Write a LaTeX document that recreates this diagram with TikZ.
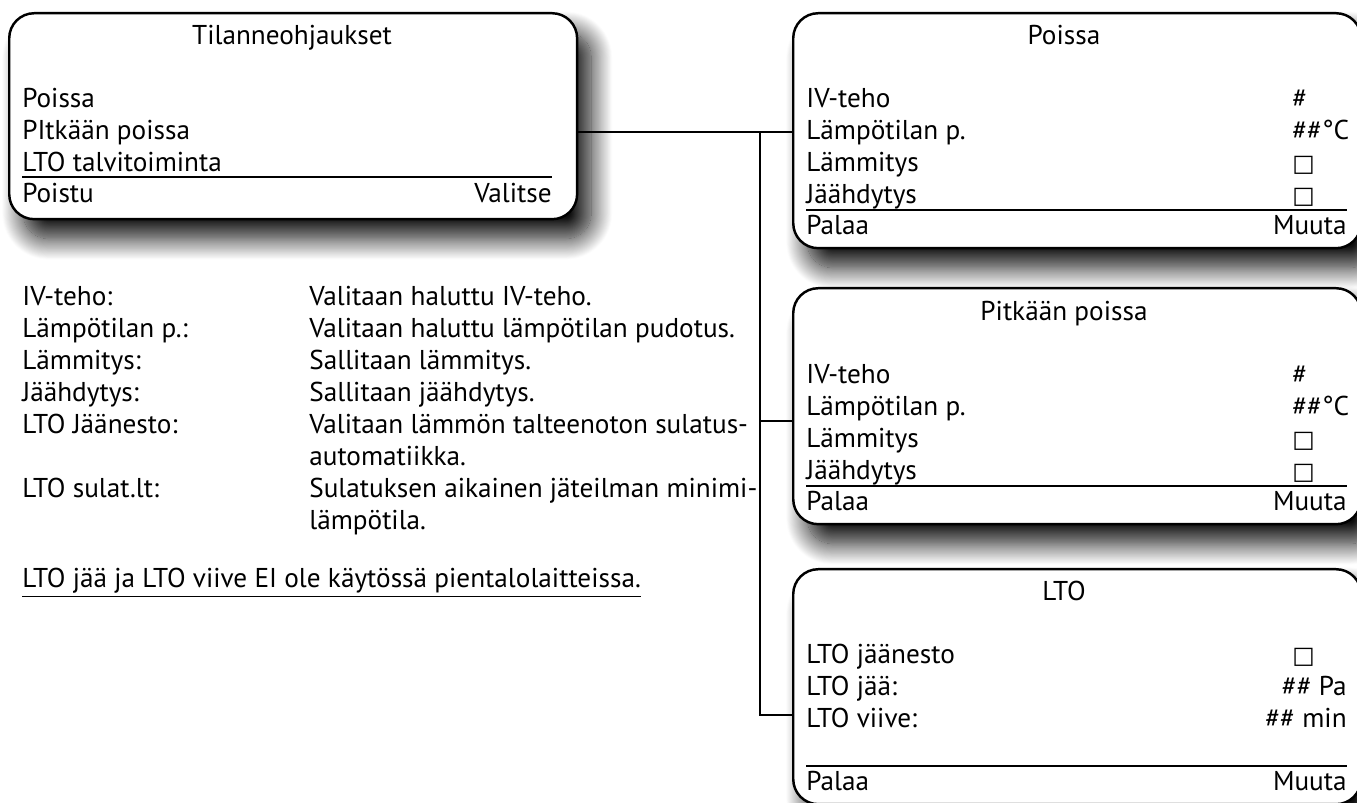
\documentclass[tikz,border=0pt]{standalone}
\usepackage{fontspec}
\setmainfont{PT Sans}
\newfontfamily\boxfont{DejaVu Sans}
\usetikzlibrary{shadows.blur,positioning}
\tikzset{
  panel/.style={
    shape = rectangle,
    draw,
    line width = 1.4pt,
    rounded corners = 0.5cm,
    fill = white,
    minimum width = 11.36cm,
    anchor = north west,
    inner sep = 0pt,
    blur shadow = {shadow xshift=8pt, shadow yshift=-11pt,
      shadow blur radius=12pt, shadow blur steps=24, shadow opacity=95}
  },
  row/.style={
    anchor = base west,
    inner sep = 0pt,
    font = \fontsize{15.5}{18}\selectfont
  },
  rowr/.style={
    row,
    anchor = base east
  },
  title/.style={
    row,
    anchor = base
  },
  sep/.style={
    line width = 0.8pt
  },
  wire/.style={
    line width = 1.3pt
  },
}
\newcommand{\chk}{{\boxfont\fontsize{13.5}{16}\selectfont\char"25A1}}
\begin{document}
\begin{tikzpicture}[x=0.02cm,y=-0.02cm]
  \node[panel, minimum height=4.12cm] (menu) at (8,12) {};
  \node[title] (menu-t) at (292,45) {Tilanneohjaukset};
  \foreach \txt [count=\i] in {Poissa, PItkään poissa, LTO talvitoiminta}
    \node[row] (menu-\i) at (22,76+32*\i) {\txt};
  \draw[sep] (22,177) -- (552,177);
  \node[row] (menu-back) at (22,203) {Poistu};
  \node[rowr] (menu-ok) at (552,203) {Valitse};

  \node[panel, minimum height=4.7cm] (poissa) at (792,12) {};
  \node[panel, minimum height=4.72cm] (pitkaan) at (792,287) {};
  \node[panel, minimum height=4.7cm] (lto) at (792,568) {};

  \foreach \dy/\name/\head in {0/poissa/Poissa, 276/pitkaan/Pitkään poissa}{
    \begin{scope}[shift={(0,\dy)}]
      \node[title] (\name-t) at (1064,45) {\head};
      \foreach \txt/\val [count=\i] in {IV-teho/\#, Lämpötilan p./\#\#°C,
          Lämmitys/\chk, Jäähdytys/\chk}{
        \node[row] (\name-\i) at (806,76+32*\i) {\txt};
        \node[row] (\name-v\i) at (1292,76+32*\i) {\val};
      }
      \draw[sep] (806,210) -- (1347,210);
      \node[row] (\name-back) at (806,235) {Palaa};
      \node[rowr] (\name-ok) at (1347,235) {Muuta};
    \end{scope}
  }

  \node[title] (lto-t) at (1064,601) {LTO};
  \node[row] (lto-1) at (806,664) {LTO jäänesto};
  \node[row] (lto-v1) at (1292,664) {\chk};
  \node[row] (lto-2) at (806,696) {LTO jää:};
  \node[rowr] (lto-v2) at (1347,696) {\#\# Pa};
  \node[row] (lto-3) at (806,728) {LTO viive:};
  \node[rowr] (lto-v3) at (1347,728) {\#\# min};
  \draw[sep] (806,766) -- (1347,766);
  \node[row] (lto-back) at (806,791) {Palaa};
  \node[rowr] (lto-ok) at (1347,791) {Muuta};

  \coordinate (j1) at (760,132);
  \coordinate (j2) at (760,421);
  \coordinate (j3) at (760,715);
  \draw[wire] (menu.east |- j1) -- (poissa.west |- j1);
  \draw[wire] (j1) -- (j3) -- (lto.west |- j3);
  \draw[wire] (j2) -- (pitkaan.west |- j2);

  \foreach \lab/\txt [count=\i] in {
      IV-teho:/Valitaan haluttu IV-teho.,
      Lämpötilan p.:/Valitaan haluttu lämpötilan pudotus.,
      Lämmitys:/Sallitaan lämmitys.,
      Jäähdytys:/Sallitaan jäähdytys.,
      LTO Jäänesto:/Valitaan lämmön talteenoton sulatus-,
      /automatiikka.,
      LTO sulat.lt:/Sulatuksen aikainen jäteilman minimi-,
      /lämpötila.}{
    \node[row] (lab-\i) at (22,274+32*\i) {\lab};
    \node[row] (txt-\i) at (309,274+32*\i) {\txt};
  }
  \node[row] (note) at (22,588) {\underline{LTO jää ja LTO viive EI ole käytössä pientalolaitteissa.}};

  \pgfresetboundingbox
  \useasboundingbox (0,0) rectangle (1357,803);
\end{tikzpicture}
\end{document}
